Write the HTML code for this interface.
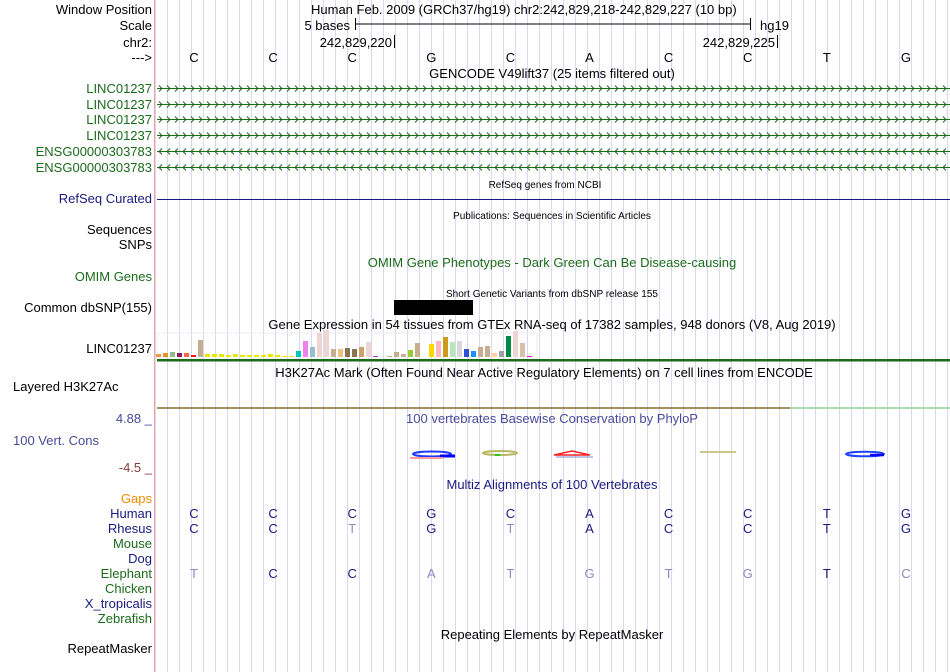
<!DOCTYPE html>
<html><head><meta charset="utf-8"><style>
html,body{margin:0;padding:0;background:#fff}
svg{display:block;font-family:"Liberation Sans",Arial,sans-serif}
</style></head><body>
<svg id="s" width="950" height="672" viewBox="0 0 950 672" xmlns="http://www.w3.org/2000/svg">
<g id="grid"></g>
<line x1="154.5" y1="0" x2="154.5" y2="672" stroke="#f4a0a0"/>
<g font-size="13" fill="#000">
<text x="152" y="14" text-anchor="end">Window Position</text>
<text x="311" y="14">Human Feb. 2009 (GRCh37/hg19)   chr2:242,829,218-242,829,227 (10 bp)</text>
<text x="152" y="30" text-anchor="end">Scale</text>
<text x="350" y="30" text-anchor="end">5 bases</text>
<text x="760" y="30">hg19</text>
<text x="152" y="47" text-anchor="end">chr2:</text>
<text x="392" y="47" text-anchor="end">242,829,220</text>
<text x="775" y="47" text-anchor="end">242,829,225</text>
<text x="152" y="62" text-anchor="end">---&gt;</text>
<text x="552" y="78" text-anchor="middle">GENCODE V49lift37 (25 items filtered out)</text>
<text x="152" y="93" text-anchor="end" fill="#1b6b1b">LINC01237</text>
<text x="152" y="109" text-anchor="end" fill="#1b6b1b">LINC01237</text>
<text x="152" y="124" text-anchor="end" fill="#1b6b1b">LINC01237</text>
<text x="152" y="140" text-anchor="end" fill="#1b6b1b">LINC01237</text>
<text x="152" y="156" text-anchor="end" fill="#1b6b1b">ENSG00000303783</text>
<text x="152" y="172" text-anchor="end" fill="#1b6b1b">ENSG00000303783</text>
<text x="545" y="188" text-anchor="middle" font-size="10">RefSeq genes from NCBI</text>
<text x="152" y="203" text-anchor="end" fill="#1a1a7e">RefSeq Curated</text>
<text x="552" y="219" text-anchor="middle" font-size="10">Publications: Sequences in Scientific Articles</text>
<text x="152" y="234" text-anchor="end">Sequences</text>
<text x="152" y="249" text-anchor="end">SNPs</text>
<text x="552" y="267" text-anchor="middle" fill="#1b6b1b">OMIM Gene Phenotypes - Dark Green Can Be Disease-causing</text>
<text x="152" y="281" text-anchor="end" fill="#1b6b1b">OMIM Genes</text>
<text x="552" y="297" text-anchor="middle" font-size="10">Short Genetic Variants from dbSNP release 155</text>
<text x="152" y="312" text-anchor="end">Common dbSNP(155)</text>
<text x="552" y="329" text-anchor="middle">Gene Expression in 54 tissues from GTEx RNA-seq of 17382 samples, 948 donors (V8, Aug 2019)</text>
<text x="152" y="353" text-anchor="end">LINC01237</text>
<text x="544" y="377" text-anchor="middle">H3K27Ac Mark (Often Found Near Active Regulatory Elements) on 7 cell lines from ENCODE</text>
<text x="13" y="391">Layered H3K27Ac</text>
<text x="152" y="423" text-anchor="end" fill="#4a4a9a">4.88 _</text>
<text x="552" y="423" text-anchor="middle" fill="#4a4a9a">100 vertebrates Basewise Conservation by PhyloP</text>
<text x="13" y="445" fill="#4a4a9a">100 Vert. Cons</text>
<text x="152" y="472" text-anchor="end" fill="#8b3a3a">-4.5 _</text>
<text x="552" y="489" text-anchor="middle" fill="#1a1a7e">Multiz Alignments of 100 Vertebrates</text>
<text x="152" y="503" text-anchor="end" fill="#f08c00">Gaps</text>
<text x="152" y="518" text-anchor="end" fill="#1a1a7e">Human</text>
<text x="152" y="533" text-anchor="end" fill="#1a1a7e">Rhesus</text>
<text x="152" y="548" text-anchor="end" fill="#1b6b1b">Mouse</text>
<text x="152" y="563" text-anchor="end" fill="#1a1a7e">Dog</text>
<text x="152" y="578" text-anchor="end" fill="#1b6b1b">Elephant</text>
<text x="152" y="593" text-anchor="end" fill="#1b6b1b">Chicken</text>
<text x="152" y="608" text-anchor="end" fill="#1a1a7e">X_tropicalis</text>
<text x="152" y="623" text-anchor="end" fill="#1b6b1b">Zebrafish</text>
<text x="552" y="639" text-anchor="middle">Repeating Elements by RepeatMasker</text>
<text x="152" y="653" text-anchor="end">RepeatMasker</text>
</g>
<g stroke="#000">
<line x1="355.5" y1="24" x2="750.5" y2="24"/><line x1="355.5" y1="18" x2="355.5" y2="30"/><line x1="750.5" y1="18" x2="750.5" y2="30"/>
<line x1="394.5" y1="35" x2="394.5" y2="48"/><line x1="777.5" y1="35" x2="777.5" y2="48"/>
</g>
<g id="genes" fill="none" stroke="#1b6b1b" stroke-width="1"></g>
<line x1="157" y1="199.5" x2="950" y2="199.5" stroke="#1a1a7e"/>
<rect x="394" y="300" width="79" height="15" fill="#000"/>
<rect x="157" y="333" width="380" height="26" fill="none" stroke="#ececec"/>
<g id="gtex"></g>
<rect x="157" y="359" width="793" height="2.5" fill="#1b6b1b"/>
<line x1="157" y1="408" x2="790" y2="408" stroke="#8b6a2a" stroke-width="1.5"/>
<line x1="790" y1="408" x2="950" y2="408" stroke="#8fd08f" stroke-width="1.5"/>
<g fill="none" stroke-width="2">
<ellipse cx="432" cy="454" rx="19" ry="2.5" stroke="#1f3aff"/><line x1="440" y1="456" x2="455" y2="456" stroke="#0000ff" stroke-width="3"/><line x1="410" y1="458" x2="443" y2="458" stroke="#ff9a9a"/>
<ellipse cx="500" cy="453" rx="17" ry="2" stroke="#b8b860"/><line x1="495" y1="455" x2="500" y2="455" stroke="#22cc22"/>
<path d="M554,455 L572,451 L590,455 Z" stroke="#ff2020" stroke-width="1.5"/><line x1="556" y1="457" x2="593" y2="457" stroke="#8888cc" stroke-width="1"/>
<line x1="700" y1="452" x2="736" y2="452" stroke="#c8c890"/>
<ellipse cx="865" cy="454" rx="19" ry="2.3" stroke="#2040ff"/><line x1="870" y1="455" x2="884" y2="455" stroke="#0000ff" stroke-width="2.5"/>
</g>
<g id="bases" font-size="13"></g>
</svg>
<script>
var gtexHeights=[3,4,5,4,4,2,17,3,3,3,2,3,2,2,2,2,3,2,1,1,6,16,10,24,27,8,8,9,8,10,15,1,0,1,5,3,7,14,0,13,16,20,15,16,8,6,10,11,4,6,21,26,14,1];
var gtexColors=["#f0964c","#e8902a","#8fbc8f","#8b1a6b","#f26b4f","#e8201a","#c8ae90","#e8e800","#e8e800","#e8e800","#e8e800","#e8e800","#e8e800","#e8e800","#e8e800","#e8e800","#e8e800","#e8e800","#e8e800","#e8e800","#00c8c8","#ee82ee","#9abcd0","#eed5d2","#eed5d2","#c8ae90","#f0c080","#8b7350","#8b7350","#cda06a","#eed5d2","#a040c8","#c8ae90","#c8ae90","#c8ae90","#c8ae90","#9acd32","#c8ae90","#c8ae90","#ffd700","#ffb6c1","#cd9b1d","#b4e8b4","#d8d8d8","#3050d0","#1e90ff","#c8ae90","#c8ae90","#ffd39b","#a0a0a0","#008b45","#eed5d2","#d8c0a8","#ff00ff"];
var refBases=["C","C","C","G","C","A","C","C","T","G"];
var humanBases=["C","C","C","G","C","A","C","C","T","G"];
var rhesusBases=["C","C","T","G","T","A","C","C","T","G"];
var elephantBases=["T","C","C","A","T","G","T","G","T","C"];
var geneRowsY=[88.5,104.5,119.5,135.5,151.5,167.5];
var geneStrands=[1,1,1,1,-1,-1];
var NS="http://www.w3.org/2000/svg";
var g=document.getElementById('grid');
for(var k=0;k<67;k++){var x=155.5+k*12;if(x>950)break;var l=document.createElementNS(NS,'line');
l.setAttribute('x1',x);l.setAttribute('x2',x);l.setAttribute('y1',0);l.setAttribute('y2',672);l.setAttribute('stroke','#d8d8f4');


g.appendChild(l);}
var gg=document.getElementById('genes');
geneRowsY.forEach(function(y,i){var d='M157,'+y+' L950,'+y;
for(var x=159;x<948;x+=8){ if(geneStrands[i]>0){d+=' M'+x+','+(y-3)+' L'+(x+3)+','+y+' L'+x+','+(y+3);} else {d+=' M'+(x+3)+','+(y-3)+' L'+x+','+y+' L'+(x+3)+','+(y+3);} }
var p=document.createElementNS(NS,'path');p.setAttribute('d',d);


gg.appendChild(p);});
var gt=document.getElementById('gtex');
var base=357, pitch=7, x0=156;
function barX(i){return x0+i*pitch;}
function barY(v){return base-v;}
gtexHeights.forEach(function(v,i){var r=document.createElementNS(NS,'rect');
r.setAttribute('x',barX(i));r.setAttribute('width',5);r.setAttribute('y',barY(v));r.setAttribute('height',v);r.setAttribute('fill',gtexColors[i]);


gt.appendChild(r);});
var bs=document.getElementById('bases');
function colX(i){return 194+i*79.1;}
function addRow(arr,y,name,fn){arr.forEach(function(b,i){var t=document.createElementNS(NS,'text');
t.setAttribute('x',colX(i));t.setAttribute('y',y);t.setAttribute('text-anchor','middle');t.setAttribute('fill',fn(b,i));t.textContent=b;


bs.appendChild(t);});}
addRow(refBases,62,'reference-base',function(){return '#000';});
addRow(humanBases,518,'human-base',function(){return '#1a1a7e';});
addRow(rhesusBases,533,'rhesus-base',function(b,i){return b===humanBases[i]?'#1a1a7e':'#8c8cbf';});
addRow(elephantBases,578,'elephant-base',function(b,i){return b===humanBases[i]?'#1a1a7e':'#8c8cbf';});
</script>
</body></html>
